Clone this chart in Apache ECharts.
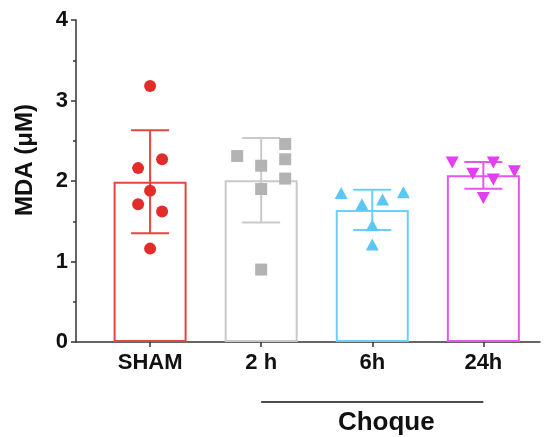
<!DOCTYPE html>
<html>
<head>
<meta charset="utf-8">
<script src="https://cdn.jsdelivr.net/npm/echarts@6/dist/echarts.min.js"></script>
<style>html,body{margin:0;padding:0;background:#fff}#c{width:544px;height:437px}</style>
</head>
<body>
<div id="c"></div>
<script>
// ---- data ----
var categories = ['SHAM', '2 h', '6h', '24h'];
var means = [1.99, 2.01, 1.64, 2.07];
var sds = [0.64, 0.525, 0.25, 0.165];
var shamValues = [3.18, 2.27, 2.16, 1.88, 1.71, 1.62, 1.16];
var h2Values = [2.31, 2.19, 2.46, 2.27, 2.03, 1.90, 0.90];
var h6Values = [1.85, 1.71, 1.77, 1.86, 1.45, 1.21];
var h24Values = [2.23, 2.23, 2.12, 2.09, 2.02, 1.79];
var yTicks = [0, 1, 2, 3, 4];
var groupLabel = 'Choque';
// horizontal scatter jitter (layout only, in category units)
var shamJitter = [0, 0.108, -0.108, 0, -0.108, 0.108, 0];
var h2Jitter = [-0.216, 0, 0.216, 0.216, 0.216, 0, 0];
var h6Jitter = [-0.28, -0.093, 0.093, 0.28, 0, 0];
var h24Jitter = [-0.28, 0.09, 0.28, -0.095, 0.09, 0];

var pointColors = ['#e12d2a', '#b3b3b3', '#5ac8f5', '#e23ff3'];
var barColors = ['#e6443e', '#c9c9c9', '#6ccff6', '#e655f0'];
var FONT = 'Liberation Sans';

function pts(vals, jit, idx) {
  return vals.map(function (v, i) { return [idx + jit[i], v]; });
}

var chart = echarts.init(document.getElementById('c'), null, { renderer: 'canvas' });
var option = {
  animation: false,
  backgroundColor: '#fff',
  grid: { left: 76, right: 4, top: 20, bottom: 95 },
  xAxis: {
    type: 'value', min: -0.667, max: 3.51,
    splitLine: { show: false },
    axisLine: { show: true, onZero: false, lineStyle: { color: '#333', width: 1.5 } },
    axisTick: { show: true, customValues: [0, 1, 2, 3], length: 5, lineStyle: { color: '#333', width: 1.5 } },
    axisLabel: {
      customValues: [0, 1, 2, 3], margin: 10,
      formatter: function (v) { return categories[Math.round(v)]; },
      fontFamily: FONT, fontWeight: 'bold', fontSize: 22, color: '#111'
    }
  },
  yAxis: {
    type: 'value', min: 0, max: 4, interval: 1,
    name: 'MDA (μM)', nameLocation: 'middle', nameGap: 39,
    nameTextStyle: { fontFamily: FONT, fontWeight: 'bold', fontSize: 24, color: '#111', padding: [0, 0, 0, 42] },
    splitLine: { show: false },
    axisLine: { show: true, onZero: false, lineStyle: { color: '#333', width: 1.5 } },
    axisTick: { show: true, length: 5, lineStyle: { color: '#333', width: 1.5 } },
    minorTick: { show: true, splitNumber: 2, length: 3, lineStyle: { color: '#333', width: 1.5 } },
    axisLabel: {
      margin: 8, fontFamily: FONT, fontWeight: 'bold', fontSize: 22, color: '#111',
      formatter: function (v) { return yTicks.indexOf(v) >= 0 ? String(v) : ''; }
    }
  },
  series: [
    {
      type: 'bar', barWidth: 73, z: 1,
      data: means.map(function (m, i) {
        return { value: [i, m], itemStyle: { color: 'rgba(255,255,255,0)', borderColor: barColors[i], borderWidth: 2 } };
      })
    },
    {
      type: 'custom', z: 2,
      data: means.map(function (m, i) { return [i, m - sds[i], m + sds[i]]; }),
      renderItem: function (params, api) {
        var i = api.value(0);
        var lo = api.coord([i, api.value(1)]);
        var hi = api.coord([i, api.value(2)]);
        var half = 19;
        var st = { stroke: barColors[i], lineWidth: 2 };
        return {
          type: 'group', children: [
            { type: 'line', shape: { x1: lo[0], y1: lo[1], x2: hi[0], y2: hi[1] }, style: st },
            { type: 'line', shape: { x1: hi[0] - half, y1: hi[1], x2: hi[0] + half, y2: hi[1] }, style: st },
            { type: 'line', shape: { x1: lo[0] - half, y1: lo[1], x2: lo[0] + half, y2: lo[1] }, style: st }
          ]
        };
      }
    },
    { type: 'scatter', z: 3, symbol: 'circle', symbolSize: 12, itemStyle: { color: pointColors[0], opacity: 1 }, data: pts(shamValues, shamJitter, 0) },
    { type: 'scatter', z: 3, symbol: 'rect', symbolSize: 12, itemStyle: { color: pointColors[1], opacity: 1 }, data: pts(h2Values, h2Jitter, 1) },
    { type: 'scatter', z: 3, symbol: 'triangle', symbolSize: [13, 12], itemStyle: { color: pointColors[2], opacity: 1 }, data: pts(h6Values, h6Jitter, 2) },
    { type: 'scatter', z: 3, symbol: 'triangle', symbolRotate: 180, symbolSize: [13, 12], itemStyle: { color: pointColors[3], opacity: 1 }, data: pts(h24Values, h24Jitter, 3) }
  ]
};
chart.setOption(option);

// group annotation under the shock categories, placed through the axis scale
var pA = chart.convertToPixel({ gridIndex: 0 }, [1, 0]);
var pB = chart.convertToPixel({ gridIndex: 0 }, [3, 0]);
var pM = chart.convertToPixel({ gridIndex: 0 }, [2, 0]);
chart.setOption({
  graphic: [
    { type: 'line', shape: { x1: pA[0], y1: pA[1] + 60, x2: pB[0], y2: pB[1] + 60 }, style: { stroke: '#111', lineWidth: 1.5 } },
    { type: 'text', x: pM[0] + 14, y: pM[1] + 81, style: { text: groupLabel, fontFamily: FONT, fontWeight: 'bold', fontSize: 26, fill: '#111', align: 'center', verticalAlign: 'middle' } }
  ]
});
</script>
</body>
</html>
